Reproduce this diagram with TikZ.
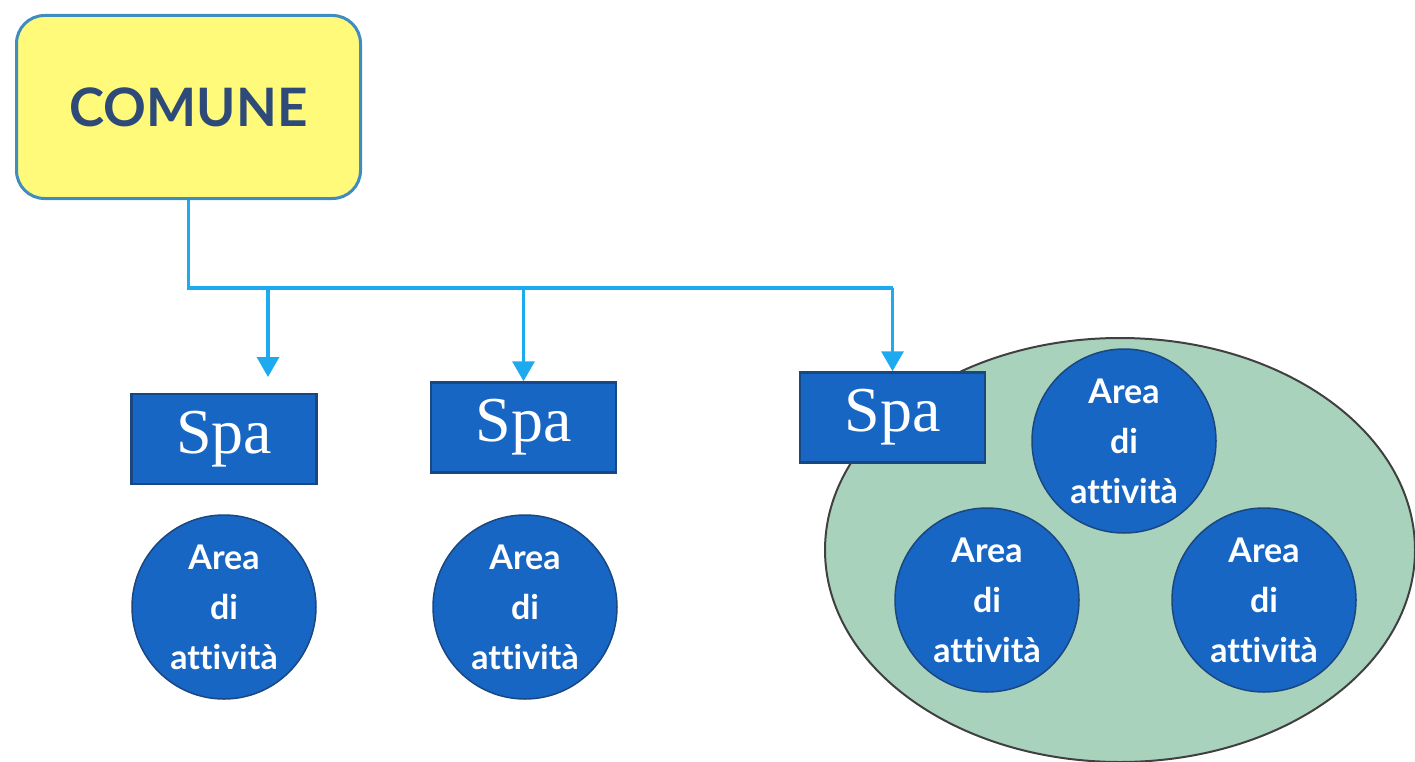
\documentclass[tikz,border=0pt]{standalone}
\usepackage{fontspec}
\setmainfont{Liberation Serif}
\newfontfamily\lato[Ligatures=NoCommon]{Lato}
\usetikzlibrary{arrows.meta,shapes.geometric}
\definecolor{cyanline}{HTML}{1DAAEE}
\definecolor{boxblue}{HTML}{1766C4}
\definecolor{boxedge}{HTML}{1B4780}
\definecolor{yel}{HTML}{FFFA7A}
\definecolor{yeledge}{HTML}{3E8CC0}
\definecolor{navy}{HTML}{2D4A78}
\definecolor{sage}{HTML}{A9D2BD}
\begin{document}
\begin{tikzpicture}[x=1pt,y=-1pt,
 spabox/.style={draw=boxedge, fill=boxblue, line width=2.5pt, minimum width=185pt, minimum height=90pt, inner sep=0pt, text=white, font=\fontsize{64}{64}\selectfont},
 area/.style={circle, draw=boxedge, fill=boxblue, line width=1.5pt, minimum size=184pt, inner sep=0pt, text=white, align=center, font=\lato\bfseries\fontsize{34}{50}\selectfont},
 link/.style={draw=cyanline, line width=3.5pt},
 arr/.style={link, -{Triangle[width=22pt,length=20pt]}}]
\useasboundingbox (0,0) rectangle (1415,762);
% group ellipse
\node[ellipse, draw=black!75, fill=sage, line width=2pt, minimum width=590pt, minimum height=424pt, inner sep=0pt] (grp) at (1120,550) {};
% top box
\node[draw=yeledge, fill=yel, line width=3pt, rounded corners=28pt, minimum width=344pt, minimum height=183pt, inner sep=0pt, text=navy, font=\lato\bfseries\fontsize{53}{53}\selectfont] (comune) at (188.5,107) {COMUNE};
% Spa boxes
\node[spabox] (spa1) at (224,439) {Spa};
\node[spabox] (spa2) at (523.5,427.5) {Spa};
\node[spabox] (spa3) at (892.5,417.5) {Spa};
% areas
\node[area] (a1) at (224,607) {Area\\di\\attività};
\node[area] (a2) at (525,607) {Area\\di\\attività};
\node[area] (a3) at (1124,441) {Area\\di\\attività};
\node[area] (a4) at (987,600) {Area\\di\\attività};
\node[area] (a5) at (1264,600) {Area\\di\\attività};
% connectors
\coordinate (j1) at (268,288);
\coordinate (t1) at (268,377);
\coordinate (j2) at (523.5,288);
\coordinate (j3) at (892.5,288);
\draw[link] (comune.south) |- (j3);
\draw[arr] (j1) -- (t1);
\draw[arr] (j2) -- (spa2.north);
\draw[arr] (j3) -- (spa3.north);
\end{tikzpicture}
\end{document}
